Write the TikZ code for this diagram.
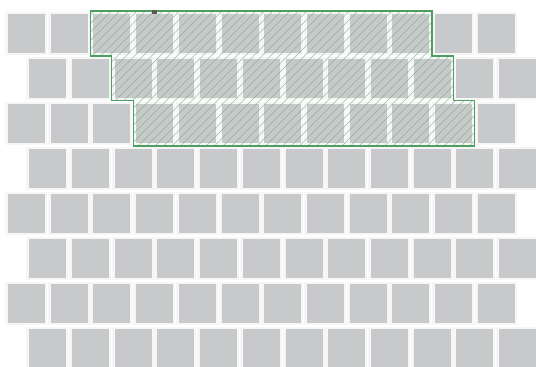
\documentclass[tikz,border=0pt]{standalone}
\definecolor{cellbg}{HTML}{F6F6F6}
\definecolor{tile}{HTML}{C8C9CB}
\definecolor{zone}{HTML}{4E9E62}
\definecolor{hatch}{HTML}{6FB07F}
\begin{document}
\begin{tikzpicture}[x=1pt,y=-1pt,
  cellbox/.style={fill=cellbg},
  tilebox/.style={fill=tile},
  hatchline/.style={draw=hatch,line width=0.6pt,opacity=0.75},
  zoneline/.style={draw=zone,line width=1.2pt}]
\useasboundingbox (0,0) rectangle (536,367);
\fill[white] (0,0) rectangle (536,367);
\foreach \r in {0,...,7}{
  \pgfmathsetmacro{\off}{mod(\r,2)==0 ? 0 : 21.35}
  \foreach \k in {0,...,11}{
    \pgfmathsetmacro{\xx}{5+\off+42.7*\k}
    \pgfmathsetmacro{\yy}{12+45*\r}
    \fill[cellbox] (\xx,\yy) rectangle ++(42,43);
    \fill[tilebox] (\xx+3,\yy+2) rectangle ++(37,39);
  }
}
\def\zonepath{(90.4,11) -- (432,11) -- (432,56) -- (453.35,56) -- (453.35,100.7) -- (474.7,100.7) -- (474.7,146) -- (133.1,146) -- (133.1,100.7) -- (111.75,100.7) -- (111.75,56) -- (90.4,56) -- cycle}
\begin{scope}
  \clip \zonepath;
  \foreach \i in {0,...,70}{
    \draw[hatchline] (-70+8.5*\i,150) -- ++(145,-145);
  }
\end{scope}
\draw[zoneline] \zonepath;
\fill[black!65] (152,10) rectangle (157,14);
\end{tikzpicture}
\end{document}
